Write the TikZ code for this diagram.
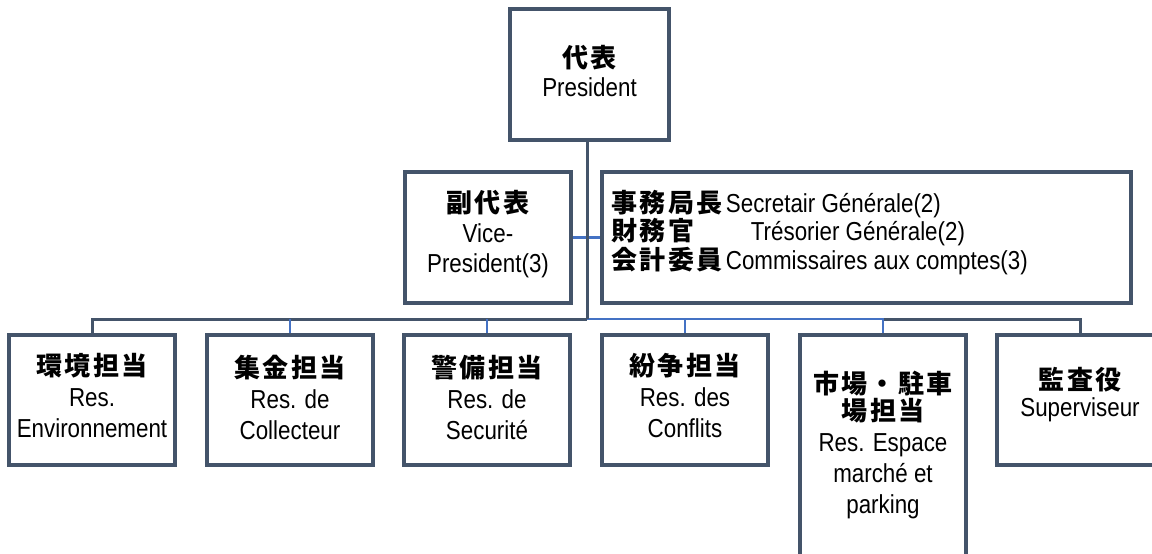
\documentclass[tikz,border=0pt]{standalone}
\usepackage{fontspec}
\setmainfont{Liberation Sans}[FakeStretch=0.86]
\newfontfamily\cjk{Noto Sans CJK JP}[LetterSpace=8]
\definecolor{boxc}{HTML}{44546A}
\definecolor{bluec}{HTML}{4472C4}
\newcommand{\jp}[1]{{\cjk\bfseries\fontsize{26}{26}\selectfont #1}}
\tikzset{
  box/.style={draw=boxc, line width=2.6pt, fill=white, inner sep=0pt, minimum width=164pt, minimum height=128pt},
  lbl/.style={align=center, inner sep=0pt, anchor=north, font=\fontsize{26}{31}\selectfont},
  darkline/.style={draw=boxc, line width=3pt},
  blueline/.style={draw=bluec, line width=2.6pt},
}
\begin{document}
\begin{tikzpicture}[x=1pt,y=-1pt]
\useasboundingbox (0,0) rectangle (1152,554);
\clip (0,0) rectangle (1152,554);
% boxes
\node[box, minimum width=157pt, minimum height=129pt] (pres) at (589.5,74.5) {};
\node[box, minimum height=129pt] (vp) at (488,237.5) {};
\node[box, minimum width=527pt, minimum height=129pt] (sec) at (866.5,237.5) {};
\node[box] (b1) at (92,400) {};
\node[box] (b2) at (290,400) {};
\node[box] (b3) at (487,400) {};
\node[box] (b4) at (685,400) {};
\node[box, minimum height=226pt] (b5) at (883,449) {};
\node[box] (b6) at (1080,400) {};
\coordinate (tk) at (587,319);
% connectors
\draw[darkline] (pres.south -| tk) -- (tk);
\draw[darkline] (b1.north) |- (tk);
\draw[darkline] (b6.north) |- (b5.north |- tk);
\draw[blueline] (tk) -| (b5.north);
\draw[blueline] (tk) -| (b4.north);
\draw[blueline] (b2.north) -- (b2.north |- tk);
\draw[blueline] (b3.north) -- (b3.north |- tk);
\draw[blueline] (vp.east) -- (sec.west);
\draw[darkline] (pres.south -| tk) -- (tk);
% redraw box borders over connector ends
\foreach \n in {pres,vp,sec,b1,b2,b3,b4,b5,b6}{\draw[draw=boxc, line width=2.6pt] (\n.north west) rectangle (\n.south east);}
% labels
\node[lbl, font=\fontsize{26}{29}\selectfont] (tp) at ([yshift=-36pt]pres.north) {\jp{代表}\\President};
\node[lbl, font=\fontsize{26}{30}\selectfont] (tvp) at ([yshift=-18pt]vp.north) {\jp{副代表}\\Vice-\\President(3)};
\node[lbl, align=left, anchor=north west, font=\fontsize{26}{27}\selectfont] (tsec) at ([xshift=10pt,yshift=-18pt]sec.north west)
  {\makebox[114pt][l]{\jp{事務局長}}Secretair Générale(2)\\
   \makebox[139pt][l]{\jp{財務官}}Trésorier Générale(2)\\
   \makebox[114pt][l]{\jp{会計委員}}Commissaires aux comptes(3)};
\node[lbl] (t1) at ([yshift=-18pt]b1.north) {\jp{環境担当}\\Res.\\Environnement};
\node[lbl] (t2) at ([yshift=-20pt]b2.north) {\jp{集金担当}\\Res. de\\Collecteur};
\node[lbl] (t3) at ([yshift=-20pt]b3.north) {\jp{警備担当}\\Res. de\\Securité};
\node[lbl] (t4) at ([yshift=-18pt]b4.north) {\jp{紛争担当}\\Res. des\\Conflits};
\node[lbl] (t5) at ([yshift=-36pt]b5.north) {\jp{市場・駐車}\\[-4pt]\jp{場担当}\\Res. Espace\\marché et\\parking};
\node[lbl, font=\fontsize{26}{27}\selectfont] (t6) at ([yshift=-32pt]b6.north) {\jp{監査役}\\Superviseur};
\end{tikzpicture}
\end{document}
